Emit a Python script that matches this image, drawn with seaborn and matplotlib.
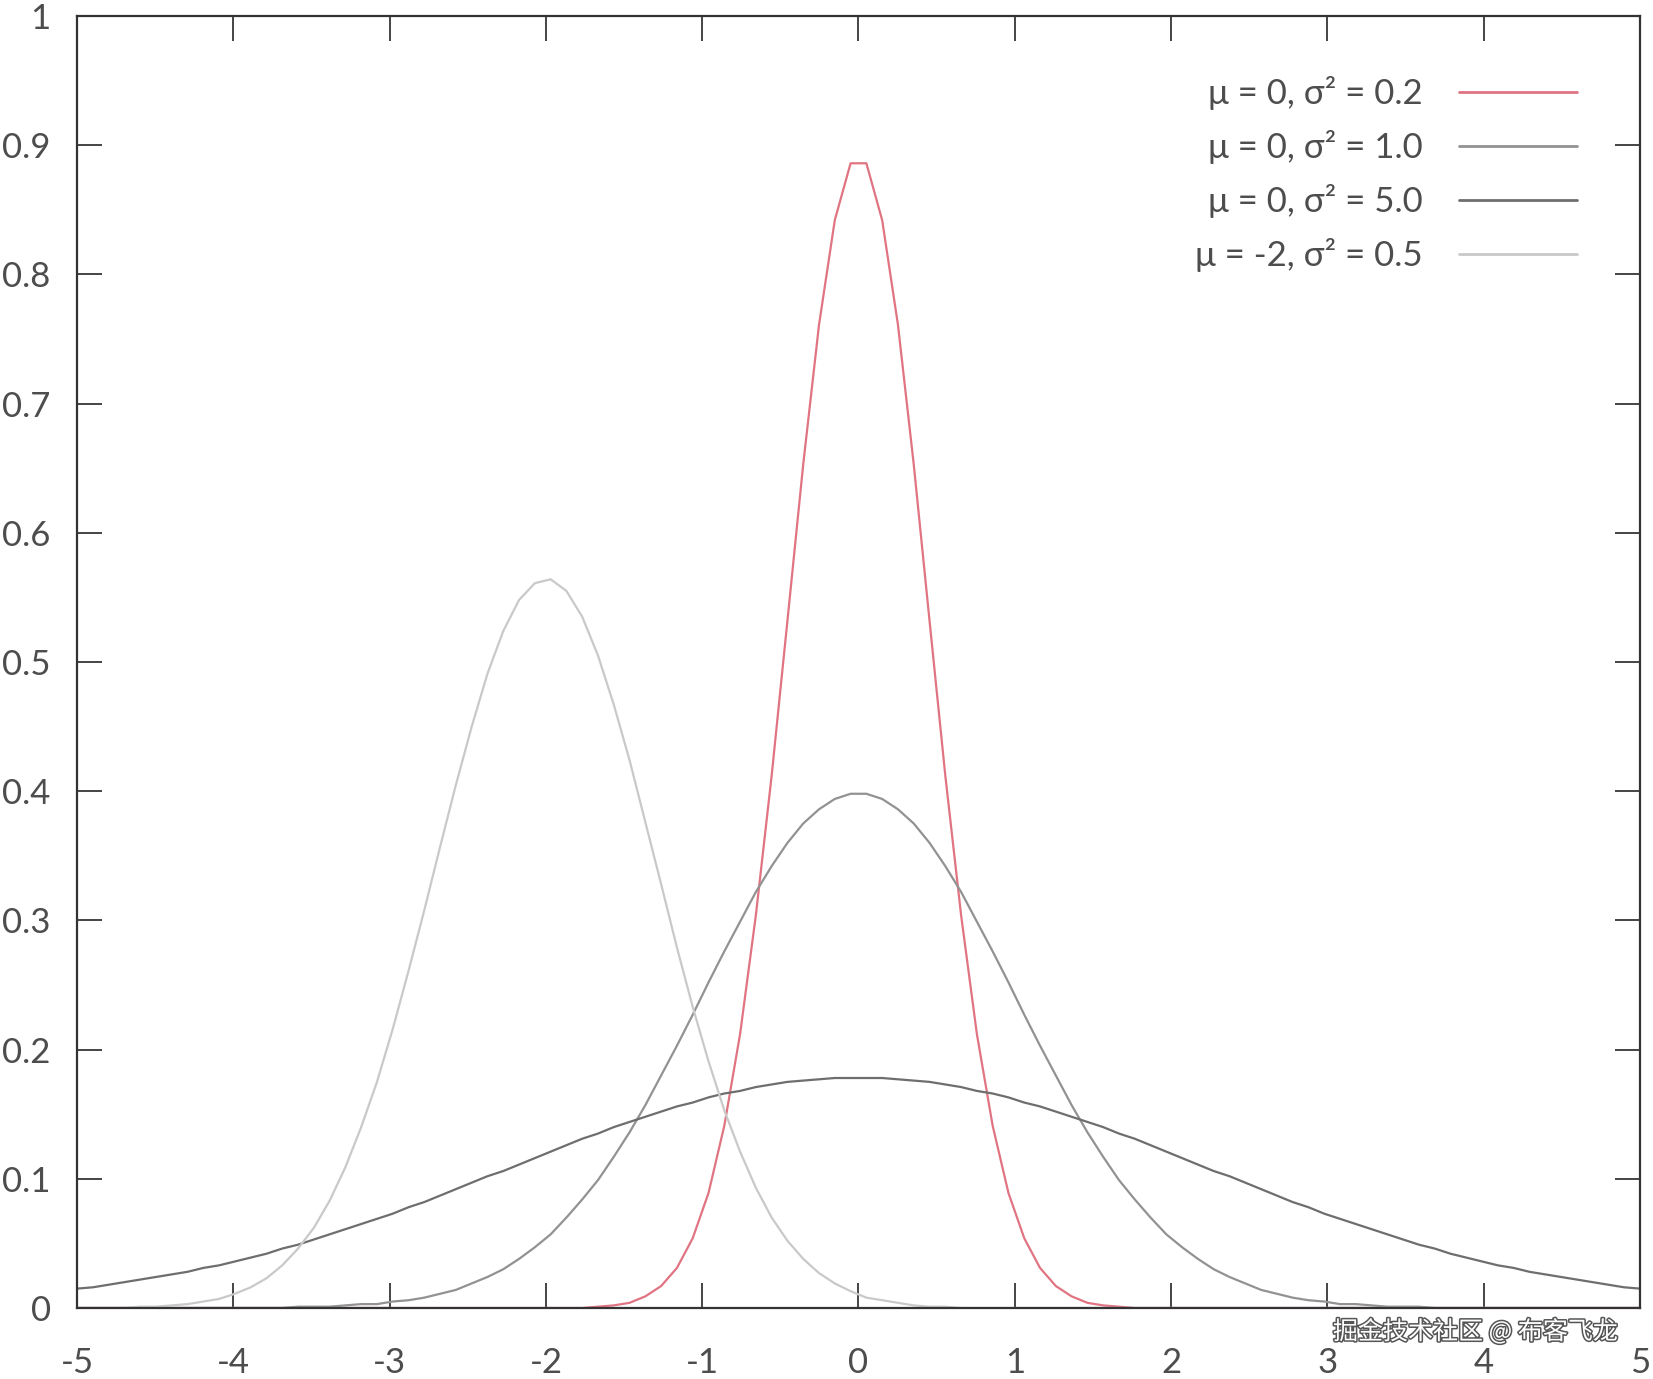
import numpy as np
import pandas as pd
import matplotlib
matplotlib.use("Agg")
import matplotlib.pyplot as plt
import matplotlib.patheffects as pe
import seaborn as sns

# -----------------------------
# DATA (sampled curves read off the chart, 100 samples over [-5, 5])
# -----------------------------
x_grid = np.linspace(-5, 5, 100)

y_mu0_var02 = [
    0, 0, 0, 0, 0, 0, 0, 0, 0, 0,
    0, 0, 0, 0, 0, 0, 0, 0, 0, 0,
    0, 0, 0, 0, 0, 0, 0, 0, 0, 0,
    0, 0, 0, 0.001, 0.002, 0.004, 0.009, 0.017, 0.031, 0.054,
    0.089, 0.141, 0.212, 0.304, 0.412, 0.532, 0.653, 0.761, 0.842, 0.886,
    0.886, 0.842, 0.761, 0.653, 0.532, 0.412, 0.304, 0.212, 0.141, 0.089,
    0.054, 0.031, 0.017, 0.009, 0.004, 0.002, 0.001, 0, 0, 0,
    0, 0, 0, 0, 0, 0, 0, 0, 0, 0,
    0, 0, 0, 0, 0, 0, 0, 0, 0, 0,
    0, 0, 0, 0, 0, 0, 0, 0, 0, 0,
]

y_mu0_var1 = [
    0, 0, 0, 0, 0, 0, 0, 0, 0, 0,
    0, 0, 0, 0, 0.001, 0.001, 0.001, 0.002, 0.003, 0.003,
    0.005, 0.006, 0.008, 0.011, 0.014, 0.019, 0.024, 0.030, 0.038, 0.047,
    0.057, 0.070, 0.084, 0.099, 0.117, 0.136, 0.157, 0.180, 0.203, 0.227,
    0.252, 0.276, 0.299, 0.322, 0.342, 0.360, 0.375, 0.386, 0.394, 0.398,
    0.398, 0.394, 0.386, 0.375, 0.360, 0.342, 0.322, 0.299, 0.276, 0.252,
    0.227, 0.203, 0.180, 0.157, 0.136, 0.117, 0.099, 0.084, 0.070, 0.057,
    0.047, 0.038, 0.030, 0.024, 0.019, 0.014, 0.011, 0.008, 0.006, 0.005,
    0.003, 0.003, 0.002, 0.001, 0.001, 0.001, 0, 0, 0, 0,
    0, 0, 0, 0, 0, 0, 0, 0, 0, 0,
]

y_mu0_var5 = [
    0.015, 0.016, 0.018, 0.020, 0.022, 0.024, 0.026, 0.028, 0.031, 0.033,
    0.036, 0.039, 0.042, 0.046, 0.049, 0.053, 0.057, 0.061, 0.065, 0.069,
    0.073, 0.078, 0.082, 0.087, 0.092, 0.097, 0.102, 0.106, 0.111, 0.116,
    0.121, 0.126, 0.131, 0.135, 0.140, 0.144, 0.148, 0.152, 0.156, 0.159,
    0.163, 0.166, 0.168, 0.171, 0.173, 0.175, 0.176, 0.177, 0.178, 0.178,
    0.178, 0.178, 0.177, 0.176, 0.175, 0.173, 0.171, 0.168, 0.166, 0.163,
    0.159, 0.156, 0.152, 0.148, 0.144, 0.140, 0.135, 0.131, 0.126, 0.121,
    0.116, 0.111, 0.106, 0.102, 0.097, 0.092, 0.087, 0.082, 0.078, 0.073,
    0.069, 0.065, 0.061, 0.057, 0.053, 0.049, 0.046, 0.042, 0.039, 0.036,
    0.033, 0.031, 0.028, 0.026, 0.024, 0.022, 0.020, 0.018, 0.016, 0.015,
]

y_mum2_var05 = [
    0, 0, 0, 0, 0.001, 0.001, 0.002, 0.003, 0.005, 0.007,
    0.011, 0.016, 0.023, 0.033, 0.046, 0.062, 0.083, 0.109, 0.140, 0.175,
    0.216, 0.261, 0.308, 0.357, 0.405, 0.450, 0.491, 0.524, 0.548, 0.561,
    0.564, 0.555, 0.535, 0.505, 0.467, 0.424, 0.376, 0.328, 0.279, 0.233,
    0.191, 0.153, 0.121, 0.093, 0.070, 0.052, 0.038, 0.027, 0.019, 0.013,
    0.008, 0.006, 0.004, 0.002, 0.001, 0.001, 0, 0, 0, 0,
    0, 0, 0, 0, 0, 0, 0, 0, 0, 0,
    0, 0, 0, 0, 0, 0, 0, 0, 0, 0,
    0, 0, 0, 0, 0, 0, 0, 0, 0, 0,
    0, 0, 0, 0, 0, 0, 0, 0, 0, 0,
]

curve_labels = ["μ = 0, σ² = 0.2", "μ = 0, σ² = 1.0", "μ = 0, σ² = 5.0", "μ = -2, σ² = 0.5"]
curve_colors = ["#e07482", "#929292", "#6e6e6e", "#c9c9c9"]

x_ticks = [-5, -4, -3, -2, -1, 0, 1, 2, 3, 4, 5]
x_tick_labels = ["-5", "-4", "-3", "-2", "-1", "0", "1", "2", "3", "4", "5"]
y_ticks = [0, 0.1, 0.2, 0.3, 0.4, 0.5, 0.6, 0.7, 0.8, 0.9, 1]
y_tick_labels = ["0", "0.1", "0.2", "0.3", "0.4", "0.5", "0.6", "0.7", "0.8", "0.9", "1"]

watermark = "掘金技术社区 @ 布客飞龙"

# -----------------------------
# LONG TABLE FOR SEABORN
# -----------------------------
all_y = [y_mu0_var02, y_mu0_var1, y_mu0_var5, y_mum2_var05]
df = pd.DataFrame({
    "x": np.tile(x_grid, len(all_y)),
    "y": np.concatenate([np.array(v, dtype=float) for v in all_y]),
    "curve": np.repeat(curve_labels, len(x_grid)),
})

# -----------------------------
# STYLE
# -----------------------------
sns.set_theme(style="ticks")
plt.rcParams['font.family'] = ['Lato', 'DejaVu Sans']
text_color = "#4d4d4d"

fig = plt.figure(figsize=(16.53, 13.79), dpi=100)
ax = fig.add_axes([0.0466, 0.0515, 0.9455, 0.9369])

sns.lineplot(data=df, x="x", y="y", hue="curve", hue_order=curve_labels,
             palette=dict(zip(curve_labels, curve_colors)),
             estimator=None, sort=False, linewidth=1.6, ax=ax)

ax.set_xlim(-5, 5)
ax.set_ylim(0, 1)
ax.set_xticks(x_ticks)
ax.set_xticklabels(x_tick_labels)
ax.set_yticks(y_ticks)
ax.set_yticklabels(y_tick_labels)
ax.set_xlabel("")
ax.set_ylabel("")

for side in ["left", "right", "top", "bottom"]:
    ax.spines[side].set_visible(True)
    ax.spines[side].set_color("#333333")
    ax.spines[side].set_linewidth(1.6)

ax.tick_params(axis="both", direction="in", length=18, width=1.4, color="#444444",
               top=True, right=True, labelsize=25, labelcolor=text_color)
ax.tick_params(axis="y", pad=19)
ax.tick_params(axis="x", pad=28)

# legend: text first, sample line after (gnuplot style)
old = ax.get_legend()
handles = old.legend_handles
labels = [t.get_text() for t in old.texts]
old.remove()
leg = ax.legend(handles, labels, loc="upper right", markerfirst=False, frameon=False,
                fontsize=25, handlelength=3.4, handletextpad=1.05, labelspacing=0.58,
                borderpad=0, borderaxespad=0,
                bbox_to_anchor=(1577 / 1653, 1 - 76 / 1379), bbox_transform=fig.transFigure)
for t in leg.get_texts():
    t.set_color(text_color)
for h in leg.legend_handles:
    h.set_linewidth(2.0)

fig.text(1333 / 1653, 1 - 1332 / 1379, watermark, ha="left", va="center",
         fontsize=18, color="white", family=['Noto Sans CJK SC', 'DejaVu Sans'],
         path_effects=[pe.withStroke(linewidth=2.2, foreground="#555555")])

plt.savefig("out.png", dpi=100)
